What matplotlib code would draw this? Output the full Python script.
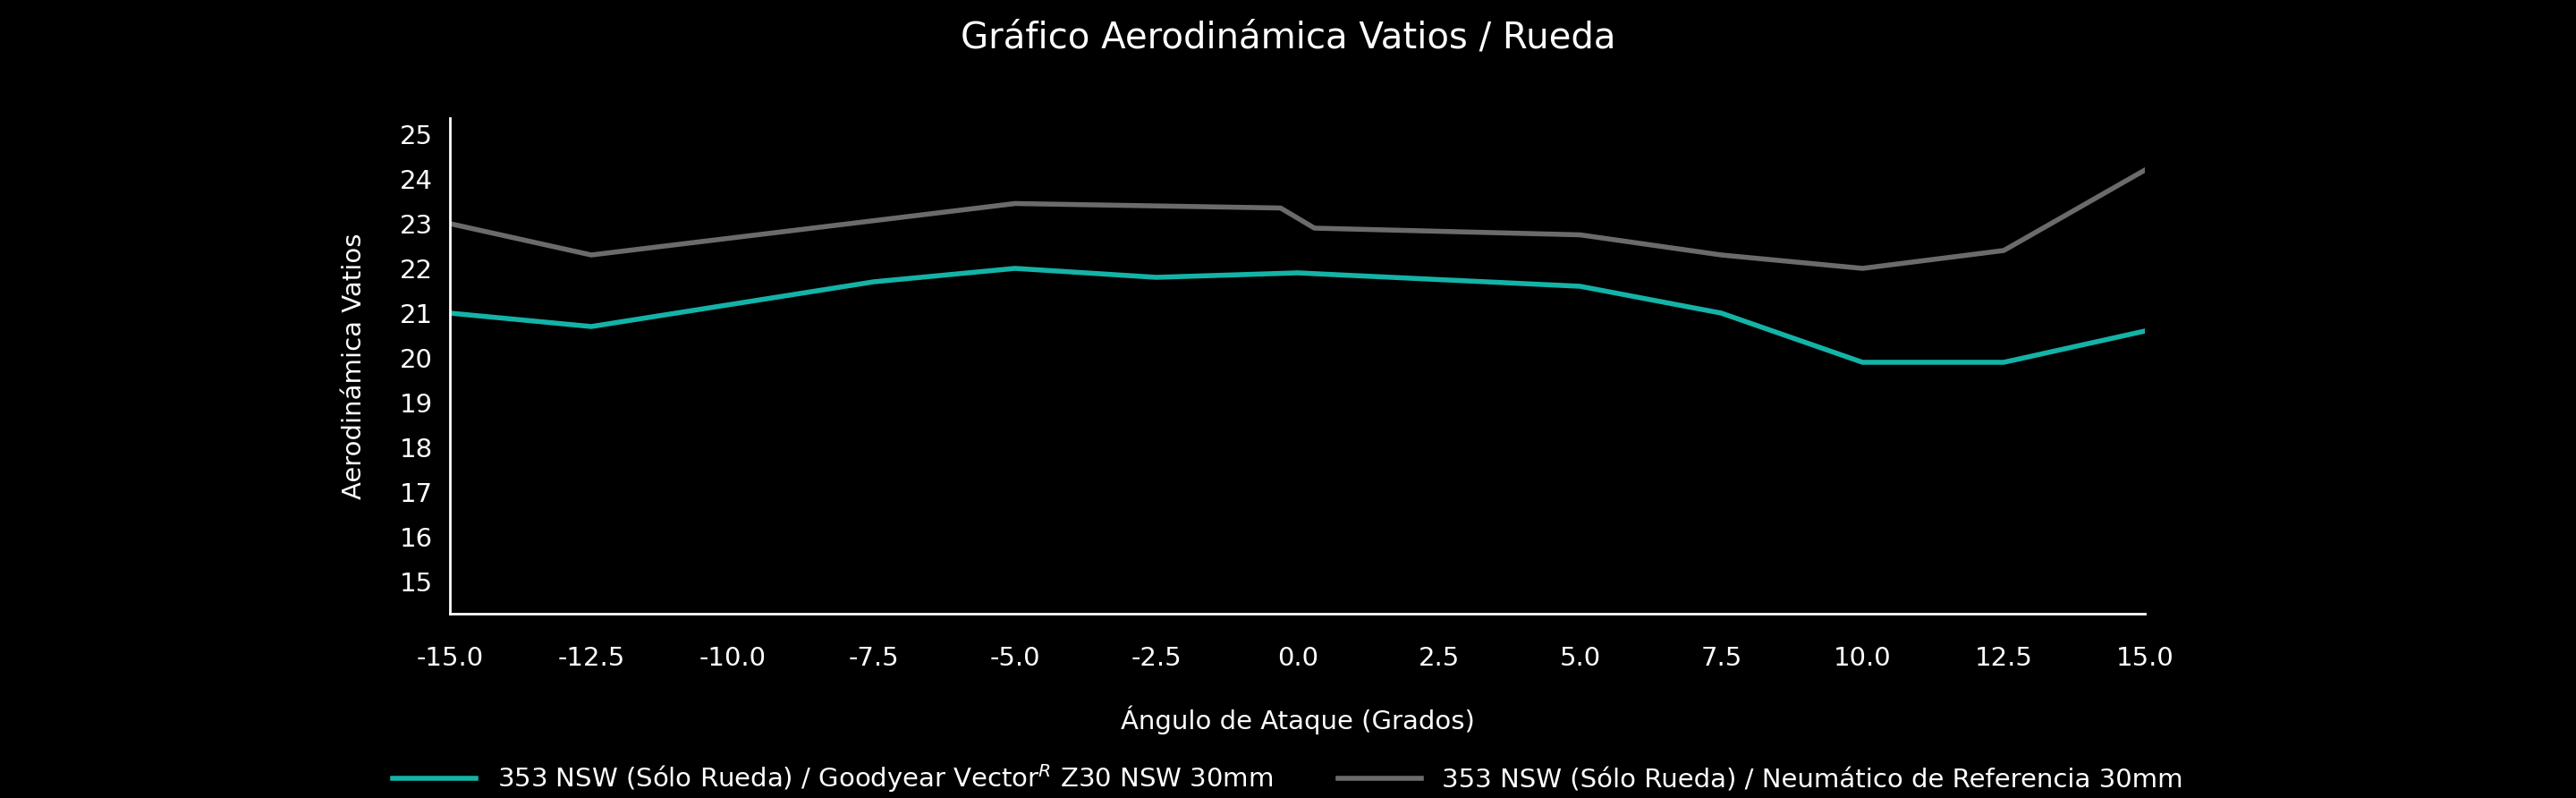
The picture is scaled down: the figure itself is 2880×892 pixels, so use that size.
# Grafico aerodinamica vatios / rueda

import matplotlib.pyplot as plt

# Datos

X_Goodyear = [-15, -12.5, -7.5, -5, -2.5, 0, 5, 7.5, 10, 12.5, 15]
Y_Goodyear = [21.0, 20.7, 21.7, 22.0, 21.8, 21.9, 21.6, 21.0, 19.9, 19.9, 20.6]

X_Referencia = [-15, -12.5, -5, -0.3, 0.3, 5, 7.5, 10, 12.5, 15]
Y_Referencia = [23.0, 22.3, 23.45, 23.35, 22.9, 22.75, 22.3, 22.0, 22.4, 24.2]

X_Ticks = [-15, -12.5, -10, -7.5, -5, -2.5, 0, 2.5, 5, 7.5, 10, 12.5, 15]
Y_Ticks = list(range(15, 26))

Etiquetas = ["353 NSW (Sólo Rueda) / Goodyear Vector$^{R}$ Z30 NSW 30mm",
             "353 NSW (Sólo Rueda) / Neumático de Referencia 30mm"]

# Grafica

plt.rcParams["font.family"] = "DejaVu Sans"

fig = plt.figure(figsize=(28.8, 8.92), dpi=100, facecolor="black")
ax = fig.add_axes([0.1747, 0.231, 0.658, 0.621], facecolor="black")

ax.plot(X_Goodyear, Y_Goodyear, color="#14b3a7", linewidth=4, label=Etiquetas[0])
ax.plot(X_Referencia, Y_Referencia, color="#6b6b6b", linewidth=4, label=Etiquetas[1])

ax.set_xlim(-15, 15)
ax.set_ylim(14.28, 25.36)
ax.set_xticks(X_Ticks)
ax.set_xticklabels(["%.1f" % v for v in X_Ticks])
ax.set_yticks(Y_Ticks)
ax.tick_params(colors="white", labelsize=21, length=0)
ax.tick_params(axis="x", pad=26)
ax.tick_params(axis="y", pad=14)

for lado in ["top", "right"]:
    ax.spines[lado].set_visible(False)
for lado in ["left", "bottom"]:
    ax.spines[lado].set_color("white")
    ax.spines[lado].set_linewidth(2)

ax.set_xlabel("Ángulo de Ataque (Grados)", color="white", fontsize=21, labelpad=28)
ax.set_ylabel("Aerodinámica Vatios", color="white", fontsize=21, labelpad=26)
fig.suptitle("Gráfico Aerodinámica Vatios / Rueda", color="white", fontsize=29, y=0.975)

fig.legend(loc="lower center", bbox_to_anchor=(0.5, -0.025), ncol=2, frameon=False,
           fontsize=21, labelcolor="white", handlelength=3.2, columnspacing=2.5)

fig.savefig("out.png", facecolor="black")
